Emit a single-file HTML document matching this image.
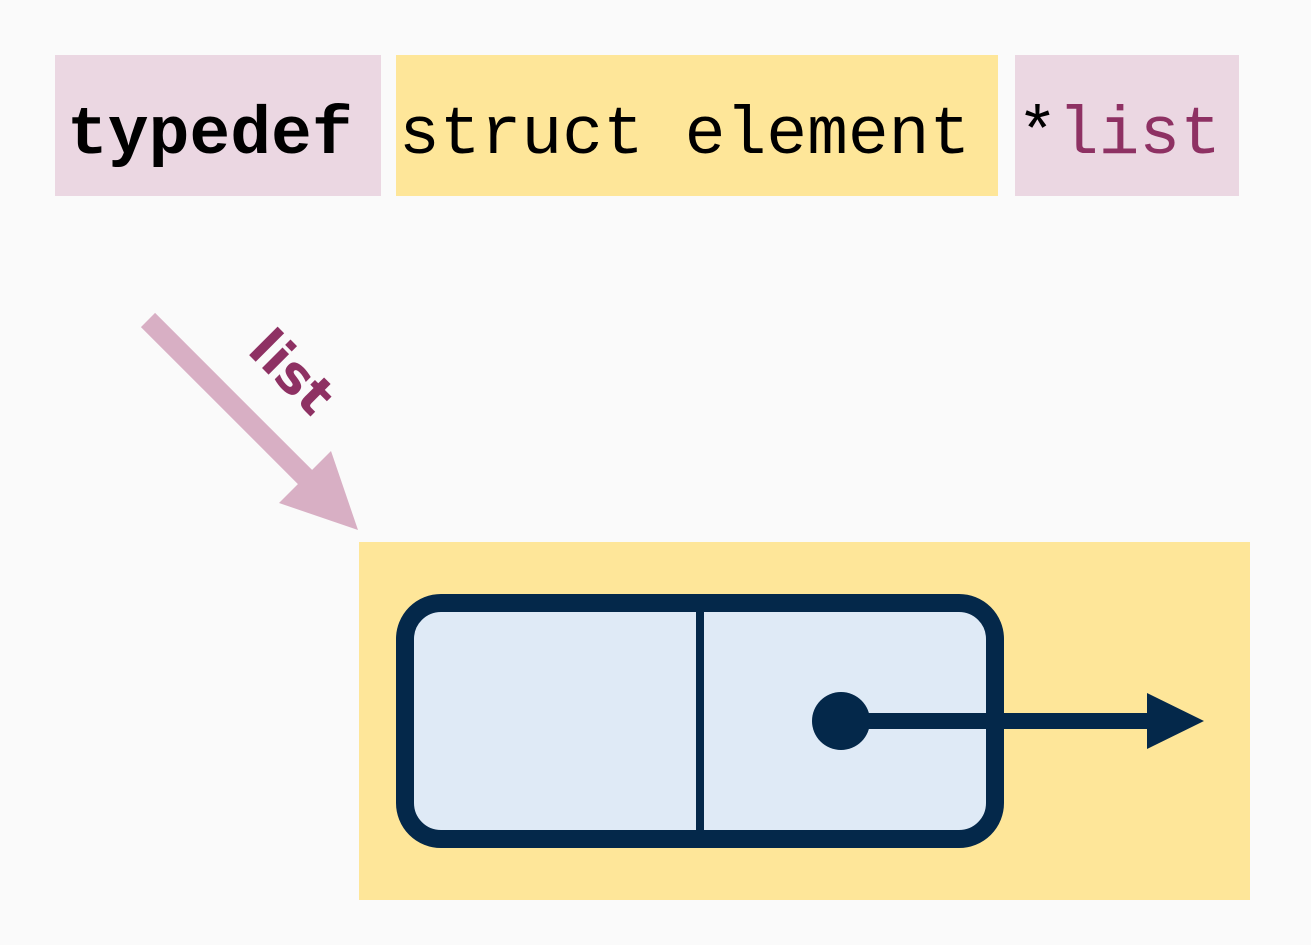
<!DOCTYPE html>
<html><head><style>
body{margin:0;background:#fafafa;width:1311px;height:940px;overflow:hidden}
</style></head><body>
<svg width="1311" height="940" xmlns="http://www.w3.org/2000/svg">
<rect width="1311" height="940" fill="#fafafa"/>
<rect x="55" y="55" width="326" height="141" fill="#ebd7e2"/>
<rect x="396" y="55" width="602" height="141" fill="#fee699"/>
<rect x="1015" y="55" width="224" height="141" fill="#ebd7e2"/>
<g font-family="Liberation Mono, monospace" font-size="68">
<text x="67" y="153" font-weight="bold" fill="#000">typedef</text>
<text x="399" y="153" fill="#000">struct element</text>
<text x="1017" y="153" fill="#000">*<tspan fill="#8e3163">list</tspan></text>
</g>
<line x1="148" y1="320" x2="318" y2="490" stroke="#d8afc4" stroke-width="20"/>
<polygon points="358,530 279,503 331,451" fill="#d8afc4"/>
<text x="0" y="0" transform="translate(246,352) rotate(45)" font-family="DejaVu Sans, sans-serif" font-weight="bold" font-size="53" fill="#8e3163">list</text>
<rect x="359" y="542" width="891" height="358" fill="#fee699"/>
<rect x="405" y="603" width="590" height="236" rx="36" fill="#dfeaf6" stroke="#04284a" stroke-width="18"/>
<line x1="700" y1="603" x2="700" y2="839" stroke="#04284a" stroke-width="8"/>
<line x1="841" y1="721" x2="1155" y2="721" stroke="#04284a" stroke-width="16"/>
<circle cx="841" cy="721" r="29" fill="#04284a"/>
<polygon points="1147,693 1204,721 1147,749" fill="#04284a"/>
</svg>
</body></html>
